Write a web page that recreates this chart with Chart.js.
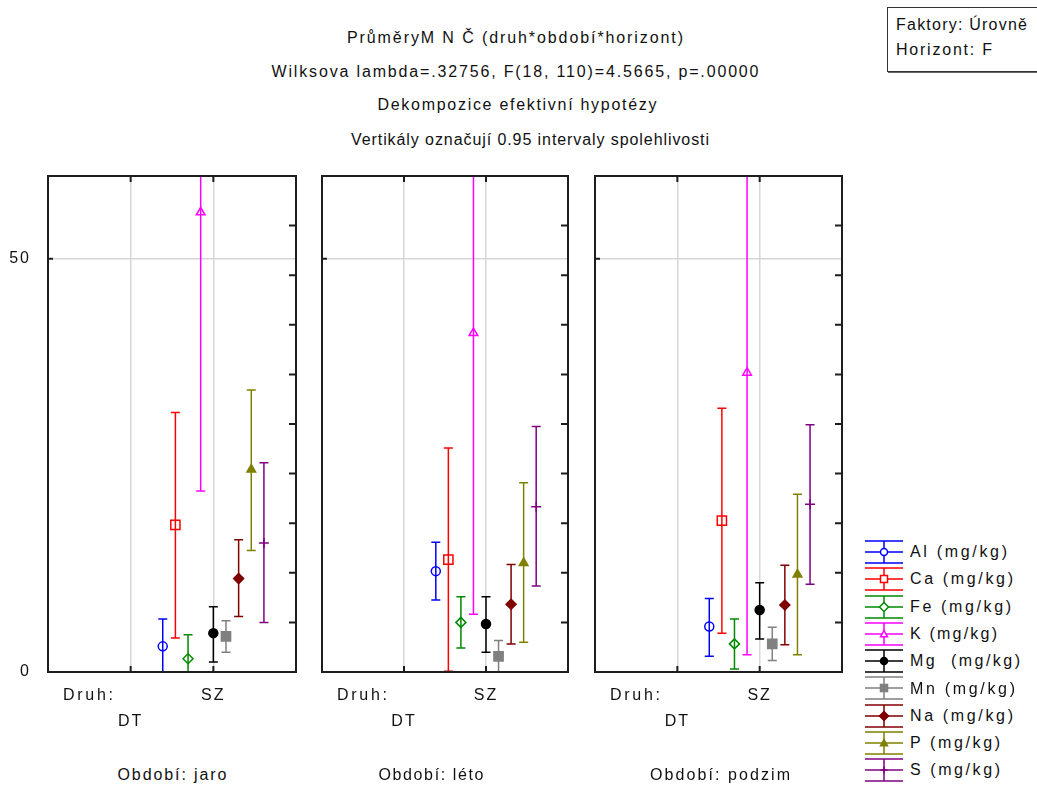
<!DOCTYPE html>
<html lang="cs">
<head>
<meta charset="utf-8">
<title>Průměry MNČ</title>
<script src="https://cdn.jsdelivr.net/npm/chart.js@4/dist/chart.umd.min.js"></script>
<style>
  body {
    margin: 0;
    width: 1037px;
    height: 786px;
    position: relative;
    overflow: hidden;
    background: #fff;
    font-family: "Liberation Sans", Arial, sans-serif;
    color: #111;
  }
  .txt {
    position: absolute;
    white-space: pre;
    font-size: 16px;
    line-height: 1;
    transform: translateY(-50%);
  }
  canvas.panel { position: absolute; }
  #factor-box {
    position: absolute;
    left: 887px;
    top: 7px;
    width: 220px;
    height: 63px;
    border: 1.5px solid #333;
    box-shadow: 1px 1px 0 #666;
  }
  #legend { position: absolute; left: 864px; top: 539px; }
  .leg-row { position: relative; height: 27.3px; }
  .leg-row canvas { position: absolute; left: 0; top: 0; }
</style>
</head>
<body>

<div id="factor-box"></div>

<canvas id="panel-jaro" class="panel"></canvas>
<canvas id="panel-leto" class="panel"></canvas>
<canvas id="panel-podzim" class="panel"></canvas>

<div id="legend"></div>

<script>
// Elements (series) and the two species levels on each x axis
const elements = ['Al', 'Ca', 'Fe', 'K', 'Mg', 'Mn', 'Na', 'P', 'S'];
const druhLabels = ['DT', 'SZ'];
const periods = ['jaro', 'léto', 'podzim'];

// Y axis: labelled ticks on the left, unlabelled minor ticks on the right
const yLabelTicks = [0, 50];
const yMinorTicks = [6, 12, 18, 24, 30, 36, 42, 48, 54];

// Means and 0.95 confidence limits, horizon F, species SZ (DT has no values)
const jaroMean = [3.1, 17.8, 1.6, 55.6, 4.7, 4.3, 11.3, 24.5, 15.6];
const jaroLow  = [-0.2, 4.1, -1.3, 21.9, 1.2, 2.4, 6.7, 14.7, 6.0];
const jaroHigh = [6.4, 31.4, 4.5, 89.3, 7.9, 6.2, 16.0, 34.1, 25.3];

const letoMean = [12.2, 13.6, 6.0, 41.0, 5.8, 1.9, 8.2, 13.2, 20.0];
const letoLow  = [8.7, 0.1, 2.9, 7.0, 2.4, -0.1, 3.4, 3.6, 10.4];
const letoHigh = [15.7, 27.1, 9.1, 75.0, 9.1, 3.8, 13.0, 22.9, 29.7];

const podzimMean = [5.5, 18.3, 3.4, 36.2, 7.5, 3.4, 8.1, 11.8, 20.3];
const podzimLow  = [1.9, 4.7, 0.35, 2.1, 4.0, 1.4, 3.3, 2.1, 10.6];
const podzimHigh = [8.9, 31.9, 6.4, 70.2, 10.8, 5.4, 12.9, 21.5, 29.9];

// Marker look per element
const colors = ['#0000ff', '#ff0000', '#008a00', '#ff00ff', '#000000', '#808080', '#800000', '#808000', '#800080'];
const markers = ['circle', 'rect', 'rectRot', 'triangle', 'circle', 'rect', 'rectRot', 'triangle', 'cross'];
const filled = [false, false, false, false, true, true, true, true, false];
const markerRadius = { circle: 4.5, rect: 6.5, rectRot: 5, triangle: 5, cross: 5 };

const Y_MAX = 60;
const SPREAD = 0.153;      // horizontal offset between neighbouring elements
const CAP = 4.5;           // half width of error bar caps
const GRID = '#d6d6d6';
const FRAME = '#1e1e1e';
const FONT = '"Liberation Sans", Arial, sans-serif';

// Plot frames on the page
const panelLeft = [48, 322, 595];
const panelWidth = [248, 246, 247];
const AXIS_W = 48;
const PAD_TOP = 16;
const PLOT_H = 496;
const XAXIS_H = 78;
const CANVAS_TOP = 160;

/**
 * Place a text line; letter spacing is stretched so the line spans `width` px
 */
function addText(text, x, y, width, align) {
  const el = document.createElement('div');
  el.className = 'txt';
  el.textContent = text;
  document.body.appendChild(el);
  const natural = el.getBoundingClientRect().width;
  const n = [...text].length;
  const ls = n > 1 ? (width - natural) / (n - 1) : 0;
  el.style.letterSpacing = ls + 'px';
  el.style.left = (align === 'center' ? x - width / 2 : x) + 'px';
  el.style.top = y + 'px';
  return el;
}

/**
 * Error bars drawn under the markers, clipped to the plot area
 */
const errorBars = {
  id: 'errorBars',
  beforeDatasetsDraw(chart) {
    const { ctx, chartArea: a, scales: { x, y } } = chart;
    ctx.save();
    ctx.beginPath();
    ctx.rect(a.left, a.top, a.right - a.left, a.bottom - a.top);
    ctx.clip();
    ctx.lineWidth = 1.5;
    chart.data.datasets.forEach(ds => {
      ctx.strokeStyle = ds.borderColor;
      ds.data.forEach(p => {
        const px = x.getPixelForValue(p.x);
        const top = y.getPixelForValue(p.hi);
        const bot = y.getPixelForValue(p.lo);
        ctx.beginPath();
        ctx.moveTo(px, top);
        ctx.lineTo(px, bot);
        ctx.moveTo(px - CAP, top);
        ctx.lineTo(px + CAP, top);
        ctx.moveTo(px - CAP, bot);
        ctx.lineTo(px + CAP, bot);
        ctx.stroke();
      });
    });
    ctx.restore();
  }
};

/**
 * Black frame with short inward tick marks on all four sides
 */
const frame = {
  id: 'frame',
  beforeDraw(chart) {
    // wider glyph spacing for the axis labels
    chart.ctx.letterSpacing = '2px';
  },
  afterDraw(chart) {
    const { ctx, chartArea: a, scales: { x, y } } = chart;
    ctx.save();
    ctx.strokeStyle = FRAME;
    ctx.lineWidth = 2;
    ctx.strokeRect(a.left, a.top, a.right - a.left, a.bottom - a.top);
    ctx.beginPath();
    druhLabels.forEach((d, i) => {
      const px = x.getPixelForValue(i + 1);
      ctx.moveTo(px, a.top);
      ctx.lineTo(px, a.top + 6);
      ctx.moveTo(px, a.bottom);
      ctx.lineTo(px, a.bottom - 6);
    });
    yLabelTicks.forEach(v => {
      const py = y.getPixelForValue(v);
      ctx.moveTo(a.left, py);
      ctx.lineTo(a.left + 5, py);
    });
    yMinorTicks.forEach(v => {
      const py = y.getPixelForValue(v);
      ctx.moveTo(a.right, py);
      ctx.lineTo(a.right - 7, py);
    });
    ctx.stroke();
    ctx.restore();
  }
};

// keep the plot area fixed: no extra room reserved for tick labels
function fixPadding(scale) {
  scale.paddingTop = 0;
  scale.paddingBottom = 0;
  scale.paddingLeft = 0;
  scale.paddingRight = 0;
}

function buildDatasets(means, lows, highs) {
  const sz = druhLabels.indexOf('SZ') + 1;
  return elements.map((el, i) => ({
    label: el + ' (mg/kg)',
    data: [{ x: sz + (i - 4) * SPREAD, y: means[i], lo: lows[i], hi: highs[i] }],
    borderColor: colors[i],
    backgroundColor: colors[i],
    pointStyle: markers[i],
    pointRadius: markerRadius[markers[i]],
    pointBorderWidth: 1.5,
    pointBackgroundColor: filled[i] ? colors[i] : 'rgba(0,0,0,0)',
    pointBorderColor: colors[i],
    showLine: false
  }));
}

/**
 * One period panel: mean of each element with its confidence interval
 */
function renderPanel(idx, canvasId, means, lows, highs) {
  const canvas = document.getElementById(canvasId);
  canvas.width = AXIS_W + panelWidth[idx] + 4;
  canvas.height = PAD_TOP + PLOT_H + XAXIS_H;
  canvas.style.left = (panelLeft[idx] - AXIS_W) + 'px';
  canvas.style.top = CANVAS_TOP + 'px';

  new Chart(canvas, {
    type: 'scatter',
    data: { datasets: buildDatasets(means, lows, highs) },
    options: {
      responsive: false,
      animation: false,
      devicePixelRatio: 1,
      layout: { autoPadding: false, padding: { top: PAD_TOP, right: 4, left: 0, bottom: 0 } },
      scales: {
        x: {
          type: 'linear',
          min: 0,
          max: druhLabels.length + 1,
          afterBuildTicks: scale => {
            scale.ticks = druhLabels.map((d, i) => ({ value: i + 1 }));
          },
          afterFit: scale => {
            scale.height = XAXIS_H;
            fixPadding(scale);
          },
          border: { display: false },
          grid: { color: GRID, lineWidth: 1.5, drawTicks: false },
          ticks: {
            autoSkip: false,
            maxRotation: 0,
            padding: 11,
            color: '#111',
            font: { family: FONT, size: 16, lineHeight: '26px' },
            // labels alternate between two rows
            callback: (v, i) => i % 2 === 0 ? ['', druhLabels[i]] : [druhLabels[i], '']
          }
        },
        y: {
          min: 0,
          max: Y_MAX,
          afterBuildTicks: scale => {
            scale.ticks = yLabelTicks.map(v => ({ value: v }));
          },
          afterFit: scale => {
            scale.width = AXIS_W;
            fixPadding(scale);
          },
          border: { display: false },
          grid: {
            drawTicks: false,
            lineWidth: 1.5,
            color: c => (c.tick && c.tick.value > 0 && c.tick.value < Y_MAX) ? GRID : 'rgba(0,0,0,0)'
          },
          ticks: {
            display: idx === 0,
            padding: 17,
            color: '#111',
            font: { family: FONT, size: 16 }
          }
        }
      },
      plugins: {
        legend: { display: false },
        tooltip: { enabled: false }
      }
    },
    plugins: [errorBars, frame]
  });

  // axis caption and period name under the panel
  addText('Druh:', panelLeft[idx] + 15, 695, 50, 'left');
  const periodCenter = [172, 431, 720];
  const periodWidth = [109, 105, 140];
  addText('Období: ' + periods[idx], periodCenter[idx], 775, periodWidth[idx], 'center');
}

/**
 * Small marker shapes for the legend icons
 */
function drawMarker(ctx, style, x, y, r, color, fill) {
  ctx.beginPath();
  if (style === 'circle') {
    ctx.arc(x, y, r, 0, Math.PI * 2);
  } else if (style === 'rect') {
    ctx.rect(x - r, y - r, 2 * r, 2 * r);
  } else if (style === 'rectRot') {
    ctx.moveTo(x, y - r - 1); ctx.lineTo(x + r + 1, y); ctx.lineTo(x, y + r + 1); ctx.lineTo(x - r - 1, y); ctx.closePath();
  } else if (style === 'triangle') {
    ctx.moveTo(x, y - r); ctx.lineTo(x + r, y + r * 0.8); ctx.lineTo(x - r, y + r * 0.8); ctx.closePath();
  } else if (style === 'cross') {
    ctx.moveTo(x - r, y); ctx.lineTo(x + r, y);
    ctx.moveTo(x, y - r); ctx.lineTo(x, y + r);
    ctx.stroke();
    return;
  }
  ctx.fillStyle = fill ? color : '#fff';
  ctx.fill();
  ctx.stroke();
}

function renderLegend() {
  const box = document.getElementById('legend');
  const labelWidth = [97, 103, 101, 87, 110, 105, 103, 90, 90];
  elements.forEach((el, i) => {
    const row = document.createElement('div');
    row.className = 'leg-row';
    const c = document.createElement('canvas');
    c.width = 40;
    c.height = 26;
    const ctx = c.getContext('2d');
    ctx.strokeStyle = colors[i];
    ctx.lineWidth = 1.5;
    ctx.beginPath();
    [2, 13, 24].forEach(yy => { ctx.moveTo(1, yy); ctx.lineTo(39, yy); });
    ctx.moveTo(20, 2);
    ctx.lineTo(20, 24);
    ctx.stroke();
    drawMarker(ctx, markers[i], 20, 13, 3.5, colors[i], filled[i]);
    row.appendChild(c);
    box.appendChild(row);
    const rowY = 539 + i * 27.3 + 13;
    addText(el + (el === 'Mg' ? '  ' : ' ') + '(mg/kg)', 910, rowY, labelWidth[i], 'left');
  });
}

// Titles
addText('PrůměryM N Č (druh*období*horizont)', 515, 38, 336, 'center');
addText('Wilksova lambda=.32756, F(18, 110)=4.5665, p=.00000', 515, 72, 487, 'center');
addText('Dekompozice efektivní hypotézy', 517, 105, 279, 'center');
addText('Vertikály označují 0.95 intervaly spolehlivosti', 530, 140, 358, 'center');

// Factor box
addText('Faktory: Úrovně', 896, 25, 131, 'left');
addText('Horizont: F', 896, 50, 96, 'left');

renderPanel(0, 'panel-jaro', jaroMean, jaroLow, jaroHigh);
renderPanel(1, 'panel-leto', letoMean, letoLow, letoHigh);
renderPanel(2, 'panel-podzim', podzimMean, podzimLow, podzimHigh);
renderLegend();
</script>
</body>
</html>
